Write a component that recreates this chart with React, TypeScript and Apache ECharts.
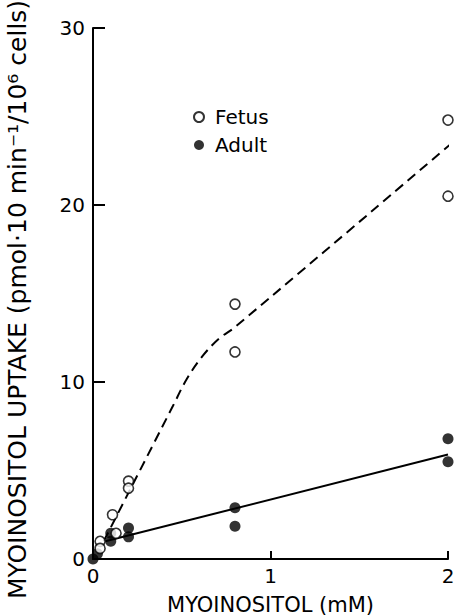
import React, { useEffect, useRef } from "react";
import * as echarts from "echarts";

// Fetus (open circles) – myoinositol concentration (mM) and uptake
const fetusX = [0.04, 0.04, 0.11, 0.13, 0.2, 0.2, 0.8, 0.8, 2, 2];
const fetusY = [1.0, 0.6, 2.5, 1.45, 4.4, 4.0, 14.4, 11.7, 24.8, 20.5];
// Adult (filled circles)
const adultX = [0, 0.025, 0.1, 0.1, 0.2, 0.2, 0.8, 0.8, 2, 2];
const adultY = [0, 0.3, 1.45, 1.0, 1.75, 1.25, 2.9, 1.85, 6.8, 5.5];
// Dashed fetus curve
const fetusCurveX = [0.06, 0.45, 0.53, 0.62, 0.71, 0.8, 2.08];
const fetusCurveY = [1.0, 8.64, 10.2, 11.5, 12.45, 13.1, 24.0];
// Solid adult line
const adultLineX = [0.07, 2];
const adultLineY = [1.0, 5.9];

const xTitle = "MYOINOSITOL (mM)";
const yTitle = "MYOINOSITOL UPTAKE (pmol·10 min⁻¹/10⁶ cells)";
const seriesNames = ["Fetus", "Adult"];

const zip = (xs: number[], ys: number[]) => xs.map((x, i) => [x, ys[i]]);

const FONT = "DejaVu Sans";

export default function App() {
  const ref = useRef<HTMLDivElement>(null);
  useEffect(() => {
    document.body.style.margin = "0";
    const chart = echarts.init(ref.current!, undefined, { renderer: "svg" });
    chart.setOption({
      animation: false,
      backgroundColor: "#ffffff",
      grid: { left: 93, right: 13, top: 28, bottom: 57, containLabel: false, outerBoundsMode: "none" },
      legend: {
        data: seriesNames,
        orient: "vertical",
        left: 188,
        top: 102,
        itemWidth: 22,
        itemHeight: 10,
        itemGap: 8,
        textStyle: { fontFamily: FONT, fontSize: 20, color: "#000" },
      },
      xAxis: {
        type: "value",
        min: 0,
        max: 2,
        interval: 1,
        name: xTitle,
        nameLocation: "middle",
        nameGap: 35,
        nameTextStyle: { fontFamily: FONT, fontSize: 21, lineHeight: 22, color: "#000" },
        axisLine: { show: true, lineStyle: { color: "#000", width: 2 } },
        axisTick: { show: true, inside: true, length: 8, lineStyle: { color: "#000", width: 2 } },
        axisLabel: { fontFamily: FONT, fontSize: 20, color: "#000", margin: 7 },
        splitLine: { show: false },
      },
      yAxis: {
        type: "value",
        min: 0,
        max: 30,
        interval: 10,
        name: yTitle,
        nameLocation: "middle",
        nameGap: 63,
        nameTextStyle: { fontFamily: FONT, fontSize: 25, color: "#000", padding: [0, 12, 0, 0] },
        axisLine: { show: true, lineStyle: { color: "#000", width: 2 } },
        axisTick: { show: true, inside: true, length: 12, lineStyle: { color: "#000", width: 2 } },
        axisLabel: { fontFamily: FONT, fontSize: 20, color: "#000", margin: 8 },
        splitLine: { show: false },
      },
      series: [
        {
          name: "Fetus curve",
          type: "line",
          data: zip(fetusCurveX, fetusCurveY),
          smooth: 0.35,
          showSymbol: false,
          symbol: "none",
          clip: false,
          lineStyle: { color: "#000", width: 2, type: [10, 6] },
          z: 1,
        },
        {
          name: "Adult line",
          type: "line",
          data: zip(adultLineX, adultLineY),
          showSymbol: false,
          symbol: "none",
          lineStyle: { color: "#000", width: 2 },
          z: 1,
        },
        {
          name: "Fetus",
          type: "scatter",
          data: zip(fetusX, fetusY),
          symbol: "circle",
          symbolSize: 10,
          itemStyle: { color: "#fff", borderColor: "#000", borderWidth: 1.6 },
          z: 3,
        },
        {
          name: "Adult",
          type: "scatter",
          data: zip(adultX, adultY),
          symbol: "circle",
          symbolSize: 11,
          itemStyle: { color: "#000" },
          z: 2,
        },
      ],
    });
    return () => chart.dispose();
  }, []);
  return <div ref={ref} style={{ width: 461, height: 616 }} />;
}
